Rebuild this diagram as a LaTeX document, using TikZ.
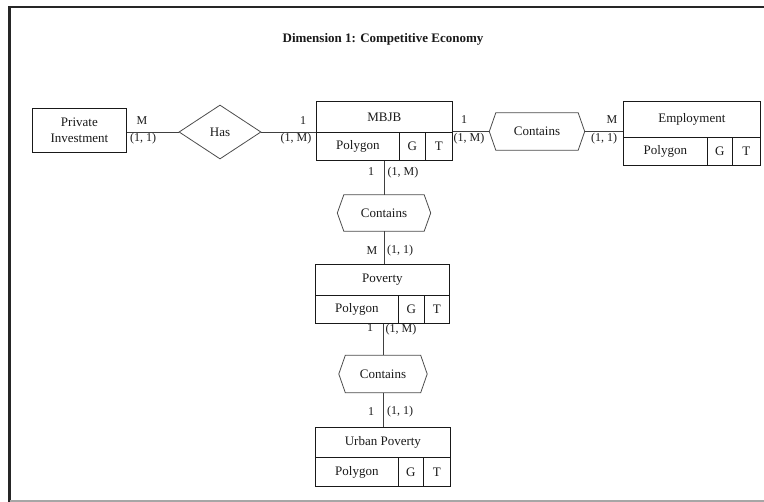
\documentclass[tikz,border=0pt]{standalone}
\usepackage{fontspec}
\setmainfont{Liberation Serif}
\usetikzlibrary{shapes.geometric}

% entity box: header row with the name, second row split into Polygon | G | T
% #1 name, #2 label, #3 left, #4 top, #5 middle, #6 bottom, #7 first divider, #8 second divider, #9 right
\newcommand\erentity[9]{%
  \node[cellbox, anchor=north west, minimum width={#9-#3}, minimum height={#5-#4}] (#1-h) at (#3,#4) {#2};
  \node[cellbox, anchor=north west, minimum width={#7-#3}, minimum height={#6-#5}] (#1-p) at (#3,#5) {Polygon};
  \node[cellbox, anchor=north west, minimum width={#8-#7}, minimum height={#6-#5}] (#1-g) at (#7,#5) {G};
  \node[cellbox, anchor=north west, minimum width={#9-#8}, minimum height={#6-#5}] (#1-t) at (#8,#5) {T};
}

\begin{document}
\begin{tikzpicture}[x=1pt,y=-1pt,
  every node/.style={text=black!90, font=\fontsize{13}{16}\selectfont},
  cellbox/.style={draw=black!90, line width=0.8pt, inner sep=0pt, align=center},
  relbox/.style={draw=black!70, line width=0.8pt, inner sep=0pt},
  hexnode/.style={inner sep=0pt},
  link/.style={draw=black!75, line width=0.9pt},
  card/.style={inner sep=0pt, font=\fontsize{12}{14}\selectfont}]

\useasboundingbox (0,0) rectangle (764,502);

% page frame
\begin{scope}
  \clip (0,0) rectangle (764,502);
  \draw[black!85, line width=2.3pt] (9.5,520) -- (9.5,7) -- (800,7);
  \draw[black!35, line width=1.5pt] (9.5,501) -- (800,501);
\end{scope}

% title
\node[font=\bfseries\fontsize{13}{15}\selectfont] (title) at (383,39) {Dimension 1: Competitive Economy};

% entities
\node[cellbox, anchor=north west, minimum width=94, minimum height=44] (pi) at (32,108) {Private\\Investment};
\erentity{mbjb}{MBJB}{316}{101}{132}{160}{399}{425}{452}
\erentity{emp}{Employment}{623}{101}{137}{165}{707}{732}{760}
\erentity{pov}{Poverty}{315}{264}{295}{323}{398}{424}{449}
\erentity{urb}{Urban Poverty}{315}{427}{457}{486}{398}{423}{450}

% relationships
\node[relbox, diamond, minimum width=82, minimum height=54] (has) at (220,132) {Has};
\node[hexnode, minimum width=95, minimum height=37] (c1) at (537,131.5) {Contains};
\node[hexnode, minimum width=93, minimum height=36] (c2) at (384,213) {Contains};
\node[hexnode, minimum width=88, minimum height=37] (c3) at (383,374) {Contains};
\foreach \h in {c1,c2,c3}
  \draw[draw=black!70, line width=0.8pt]
    (\h.west) -- ([xshift=6.5]\h.north west) -- ([xshift=-6.5]\h.north east)
    -- (\h.east) -- ([xshift=-6.5]\h.south east) -- ([xshift=6.5]\h.south west) -- cycle;

% connectors
\draw[link] (pi.east |- has.west) -- (has.west);
\draw[link] (has.east) -- (has.east -| mbjb-h.west);
\draw[link] (c1.west -| mbjb-h.east) -- (c1.west);
\draw[link] (c1.east) -- (c1.east -| emp-h.west);
\draw[link] (c2.north |- mbjb-p.south) -- (c2.north);
\draw[link] (c2.south) -- (c2.south |- pov-h.north);
\draw[link] (c3.north |- pov-p.south) -- (c3.north);
\draw[link] (c3.south) -- (c3.south |- urb-h.north);

% cardinalities
\node[card] (k1) at (142,121) {M};
\node[card] (k2) at (143,139) {(1, 1)};
\node[card] (k3) at (303,121) {1};
\node[card] (k4) at (296,139) {(1, M)};
\node[card] (k5) at (464,120) {1};
\node[card] (k6) at (469,139) {(1, M)};
\node[card] (k7) at (612,120) {M};
\node[card] (k8) at (604,139) {(1, 1)};
\node[card] (k9) at (371,172) {1};
\node[card] (k10) at (403,173) {(1, M)};
\node[card] (k11) at (372,251) {M};
\node[card] (k12) at (400,251) {(1, 1)};
\node[card] (k13) at (370,328) {1};
\node[card] (k14) at (401,330) {(1, M)};
\node[card] (k15) at (371,412) {1};
\node[card] (k16) at (400,412) {(1, 1)};

\end{tikzpicture}
\end{document}
